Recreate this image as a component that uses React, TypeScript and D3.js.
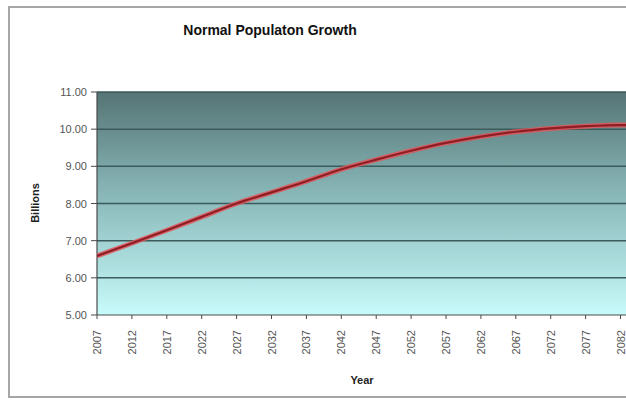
import React from "react";
import * as d3 from "d3";

// Projected world population (billions), sampled every five years
const years = [2007, 2012, 2017, 2022, 2027, 2032, 2037, 2042, 2047, 2052, 2057, 2062, 2067, 2072, 2077, 2082, 2083];
const billions = [6.59, 6.93, 7.28, 7.64, 8.0, 8.3, 8.6, 8.92, 9.18, 9.42, 9.63, 9.8, 9.93, 10.02, 10.08, 10.11, 10.11];
const yearTicks = [2007, 2012, 2017, 2022, 2027, 2032, 2037, 2042, 2047, 2052, 2057, 2062, 2067, 2072, 2077, 2082];
const valueTicks = [5, 6, 7, 8, 9, 10, 11];

const W = 626;
const H = 400;
const plot = { left: 97, right: 627.5, top: 92, bottom: 315 };

export default function App() {
  const x = d3.scaleLinear().domain([2007, 2083]).range([plot.left, plot.right]);
  const y = d3.scaleLinear().domain([5, 11]).range([plot.bottom, plot.top]);

  const pts = years.map((yr, i) => [yr, billions[i]] as [number, number]);
  const line = d3
    .line<[number, number]>()
    .x((d) => x(d[0]))
    .y((d) => y(d[1]))
    .curve(d3.curveMonotoneX)(pts) as string;

  const font = "Arial, 'Liberation Sans', sans-serif";

  return (
    <svg
      width={W}
      height={H}
      style={{ position: "absolute", left: 0, top: 0, background: "#fff" }}
      fontFamily={font}
    >
      <defs>
        <linearGradient id="bg" x1="0" y1="0" x2="0" y2="1">
          <stop offset="0" stopColor="#557475" />
          <stop offset="0.45" stopColor="#88b6b7" />
          <stop offset="1" stopColor="#c8fbfb" />
        </linearGradient>
        <clipPath id="plotClip">
          <rect x={plot.left} y={plot.top - 4} width={W - plot.left} height={plot.bottom - plot.top + 8} />
        </clipPath>
      </defs>

      {/* chart frame */}
      <rect x={9} y={7} width={W} height={390} fill="#fff" stroke="#a6a6a6" strokeWidth={2} />

      <text x={270} y={35} textAnchor="middle" fontSize={14} fontWeight="bold" fill="#111">
        Normal Populaton Growth
      </text>

      {/* plot background */}
      <rect x={plot.left} y={plot.top} width={W - plot.left} height={plot.bottom - plot.top} fill="url(#bg)" />

      {/* horizontal gridlines */}
      {valueTicks.slice(1).map((v) => (
        <line key={v} x1={plot.left} x2={W} y1={y(v)} y2={y(v)} stroke="#3b5a5b" strokeWidth={1.5} />
      ))}

      {/* axes */}
      <line x1={plot.left} x2={plot.left} y1={plot.top} y2={plot.bottom} stroke="#4a4a4a" strokeWidth={1.2} />
      <line x1={plot.left} x2={W} y1={plot.bottom} y2={plot.bottom} stroke="#4a4a4a" strokeWidth={1.2} />

      {valueTicks.map((v) => (
        <g key={v}>
          <line x1={plot.left - 6} x2={plot.left} y1={y(v)} y2={y(v)} stroke="#4a4a4a" />
          <text x={87} y={y(v) + 4} textAnchor="end" fontSize={11} fill="#555">
            {v.toFixed(2)}
          </text>
        </g>
      ))}

      {yearTicks.map((yr) => (
        <g key={yr}>
          <line x1={x(yr)} x2={x(yr)} y1={plot.bottom} y2={plot.bottom + 4} stroke="#4a4a4a" />
          <text
            transform={`translate(${x(yr) + 4},${330}) rotate(-90)`}
            textAnchor="end"
            fontSize={11}
            fill="#555"
          >
            {yr}
          </text>
        </g>
      ))}

      <text
        transform={`translate(39,203) rotate(-90)`}
        textAnchor="middle"
        fontSize={11}
        fontWeight="bold"
        fill="#222"
      >
        Billions
      </text>
      <text x={362} y={384} textAnchor="middle" fontSize={11} fontWeight="bold" fill="#222">
        Year
      </text>

      {/* population line */}
      <g clipPath="url(#plotClip)">
        <path d={line} fill="none" stroke="#e0575a" strokeWidth={5} strokeOpacity={0.85} />
        <path d={line} fill="none" stroke="#8e1d25" strokeWidth={2.2} />
      </g>
    </svg>
  );
}
